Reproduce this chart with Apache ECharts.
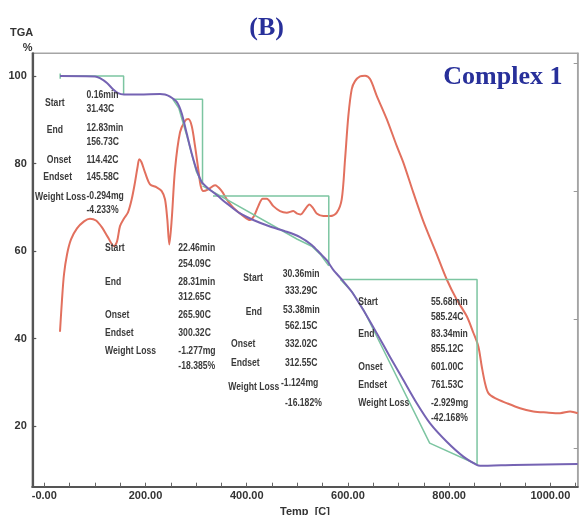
<!DOCTYPE html>
<html>
<head>
<meta charset="utf-8">
<script src="https://cdn.jsdelivr.net/npm/echarts@6/dist/echarts.min.js"></script>
<style>
  html, body { margin: 0; padding: 0; background: #fff; }
  #chart { width: 579px; height: 515px; }
</style>
</head>
<body>
<div id="chart"></div>
<script>
// TGA mass curve (%), temperature in °C
const tgaTemp = [31, 100.2, 110, 123.9, 135.8, 145.7, 157.5, 189, 228.7, 238.5, 248.4, 261.7, 271.5, 281.4, 291.3, 301.2, 311.1, 324.1, 340.7, 360.5, 386.8, 413, 446, 479.1, 505.3, 528.5, 544.9, 558.1, 571.1, 587.7, 607.5, 630.4, 656.9, 683.2, 709.5, 736, 762.3, 795.3, 828.1, 854.5, 861.1, 926.9, 989.5, 1054];
const tgaPct  = [100, 99.9, 99.5, 98.4, 97.0, 96.1, 95.8, 95.8, 95.9, 95.8, 95.3, 94.1, 91.5, 86.9, 82.3, 78.5, 75.8, 74.3, 72.8, 70.9, 68.6, 67.1, 65.6, 64.4, 63.2, 61.4, 59.5, 57.9, 55.7, 53.5, 50.7, 46.5, 41.2, 35.8, 30.5, 25.2, 20.6, 16.4, 13.0, 11.1, 10.9, 11.1, 11.2, 11.3];

// DSC heat-flow signal (arbitrary units on the right axis)
const dscTemp = [31, 35, 38.9, 44.9, 52.8, 64.6, 78.5, 90.3, 102.2, 114, 125.9, 137.7, 143.7, 149.6, 157.5, 165.4, 172.7, 179.2, 184.2, 187.7, 192.1, 199, 208.9, 222.1, 232, 238.5, 243.1, 247, 251.8, 258.3, 268.2, 278.1, 284.6, 291.3, 297.8, 304.3, 309.1, 314.2, 324.1, 337.4, 350.6, 360.5, 373.5, 393.3, 406.5, 414.4, 422.9, 431.6, 439.5, 452.6, 465.8, 479.1, 492.1, 498.8, 506.7, 515.2, 523.7, 530.4, 538.3, 551.4, 564.6, 577.9, 587.7, 594.3, 600.8, 607.5, 614, 623.9, 633.8, 643.7, 656.9, 676.7, 696.4, 709.5, 729.2, 749, 775.5, 795.3, 815, 834.8, 847.8, 857.7, 864.4, 870.9, 877.5, 890.7, 913.8, 940.1, 966.4, 992.9, 1019.2, 1039, 1054];
const dscSignal = [9.06, 11.56, 13.52, 15.08, 16.25, 17.11, 17.66, 17.87, 17.73, 17.19, 16.41, 15.73, 16.09, 17.29, 17.89, 18.36, 19.38, 20.70, 21.88, 22.5, 22.27, 21.48, 20.55, 20.31, 20.02, 19.38, 17.81, 15.86, 17.81, 21.72, 24.61, 25.49, 25.63, 25.10, 23.54, 21.72, 20.41, 20.02, 20.16, 20.47, 20.02, 19.38, 18.73, 18.07, 17.76, 18.07, 18.85, 19.43, 19.43, 18.85, 18.46, 18.34, 18.46, 18.28, 18.20, 18.59, 18.98, 18.73, 18.28, 18.07, 18.07, 18.34, 19.38, 22.5, 25.88, 27.97, 28.59, 28.96, 29.01, 28.75, 27.45, 25.63, 23.54, 22.24, 19.90, 17.66, 15.08, 13.13, 11.56, 10.26, 8.98, 7.91, 6.35, 5.05, 4.27, 3.88, 3.49, 3.10, 2.84, 2.76, 2.71, 2.84, 2.71];

// Mass-loss steps: start/end temperature and mass level before/after each step
const stepStart = [31.43, 254.09, 333.29, 585.24];
const stepEnd   = [156.73, 312.65, 562.15, 855.12];
const stepUpper = [100, 94.7, 72.6, 53.5];
const stepLower = [95.8, 75.2, 56.6, 11.2];

// Tangent construction lines for steps 2-4
const tangent2Temp = [254.09, 266, 281, 300.32, 312.65];
const tangent2Pct  = [94.7, 92.6, 86.6, 78.2, 75.2];
const tangent3Temp = [312.65, 500, 528.5, 545, 562.15];
const tangent3Pct  = [74.9, 62.7, 61.1, 59.3, 56.6];
const tangent4Temp = [585.24, 608, 632, 761.53, 855.12];
const tangent4Pct  = [53.5, 50.7, 46.3, 16.1, 11.2];

// Report text of the step analysis
const reportNames = ['Start', 'End', 'Onset', 'Endset', 'Weight Loss'];
const reportValues = [
  ['0.16min', '31.43C', '12.83min', '156.73C', '114.42C', '145.58C', '-0.294mg', '-4.233%'],
  ['22.46min', '254.09C', '28.31min', '312.65C', '265.90C', '300.32C', '-1.277mg', '-18.385%'],
  ['30.36min', '333.29C', '53.38min', '562.15C', '332.02C', '312.55C', '-1.124mg', '-16.182%'],
  ['55.68min', '585.24C', '83.34min', '855.12C', '601.00C', '761.53C', '-2.929mg', '-42.168%']
];

const xTickLabels = [0, 200, 400, 600, 800, 1000];
const yTickLabels = [20, 40, 60, 80, 100];

const pairs = (xs, ys) => xs.map((x, i) => [x, ys[i]]);

// Report block layout (pixel positions)
const nameLayout = [
  [[45, 103.3], [46.7, 130], [46.7, 160], [43.3, 176.7], [35, 196.7]],
  [[105, 248.3], [105, 281.7], [105, 315], [105, 333.3], [105, 351]],
  [[243.3, 278.3], [245.7, 311.7], [231, 344.3], [231, 363.3], [228.3, 387.3]],
  [[358.3, 301.7], [358.3, 334], [358.3, 367.3], [358.3, 385], [358.3, 403.3]]
];
const valueLayout = [
  [[86.5, 95], [86.5, 109.3], [86.5, 127.7], [86.5, 141.7], [86.5, 160], [86.5, 176.7], [86.5, 196], [86.5, 210]],
  [[178.3, 248.3], [178.3, 264], [178.3, 281.7], [178.3, 297.3], [178.3, 315], [178.3, 333.3], [178.3, 351], [178.3, 366]],
  [[282.7, 274.3], [285, 291], [283, 310], [285, 326], [285, 344.3], [285, 363.3], [281, 383.3], [285, 402.7]],
  [[431, 301.7], [431, 316.7], [431, 334], [431, 349.3], [431, 367.3], [431, 385], [431, 403.3], [431, 418.3]]
];

const reportFont = 'bold 10.5px "Liberation Sans", Arial, sans-serif';
function reportText(text, pos) {
  return {
    type: 'text', x: pos[0], y: pos[1], scaleX: 0.82, z: 100,
    style: {
      text: text, x: 0, y: 0, fill: '#3a3a3a', font: reportFont,
      align: 'left', verticalAlign: 'middle', textAlign: 'left', textVerticalAlign: 'middle'
    }
  };
}

const graphics = [];
reportValues.forEach((vals, b) => {
  reportNames.forEach((n, i) => graphics.push(reportText(n, nameLayout[b][i])));
  vals.forEach((v, i) => graphics.push(reportText(v, valueLayout[b][i])));
});
const plainText = (text, x, y, font, fill, align) => ({
  type: 'text', x: x, y: y, z: 100,
  style: { text: text, x: 0, y: 0, font: font, fill: fill,
    align: align, verticalAlign: 'middle', textAlign: align, textVerticalAlign: 'middle' }
});
graphics.push(plainText('TGA', 10, 33.3, 'bold 11px "Liberation Sans", Arial, sans-serif', '#333', 'left'));
graphics.push(plainText('%', 32.5, 48, 'bold 11px "Liberation Sans", Arial, sans-serif', '#333', 'right'));
graphics.push(plainText('(B)', 266.7, 28.5, 'bold 26px "Liberation Serif", "Times New Roman", serif', '#28309a', 'center'));
graphics.push(plainText('Complex 1', 443.3, 77, 'bold 26px "Liberation Serif", "Times New Roman", serif', '#28309a', 'left'));

// Step boxes: horizontal at the upper level, vertical drop at the step end
const stepSeries = stepStart.map((s, i) => {
  const pts = [];
  if (i === 0) { pts.push([s, stepUpper[i] + 0.6], [s, stepUpper[i] - 0.6]); }
  pts.push([s, stepUpper[i]], [stepEnd[i], stepUpper[i]], [stepEnd[i], stepLower[i]]);
  return {
    type: 'line', name: 'step' + (i + 1), data: pts, showSymbol: false, symbol: 'none',
    lineStyle: { color: '#7cc5a1', width: 1.5 }, z: 3, silent: true
  };
});
const tangentSeries = [[tangent2Temp, tangent2Pct], [tangent3Temp, tangent3Pct], [tangent4Temp, tangent4Pct]]
  .map((t, i) => ({
    type: 'line', name: 'tangent' + (i + 2), data: pairs(t[0], t[1]), symbol: 'none',
    lineStyle: { color: '#7cc5a1', width: 1.5 }, z: 3, silent: true
  }));

const chart = echarts.init(document.getElementById('chart'), null, { renderer: 'canvas' });
chart.setOption({
  animation: false,
  backgroundColor: '#ffffff',
  grid: {
    left: 32.3, right: 1.3, top: 53.3, bottom: 28.3,
    show: true, borderColor: '#a5a5a5', borderWidth: 1.5, backgroundColor: 'transparent',
    containLabel: false, outerBoundsMode: 'none'
  },
  xAxis: {
    type: 'value', min: -23.7, max: 1054,
    name: 'Temp  [C]', nameLocation: 'middle', nameGap: 16,
    nameTextStyle: { color: '#333', fontWeight: 'bold', fontSize: 11, fontFamily: '"Liberation Sans", Arial, sans-serif' },
    axisLine: { show: true, onZero: false, lineStyle: { color: '#555', width: 2.2 } },
    axisTick: { show: true, inside: true, length: 4, customValues: Array.from({ length: 22 }, (_, i) => i * 50), lineStyle: { color: '#666', width: 1 } },
    axisLabel: {
      customValues: xTickLabels, margin: 4, color: '#333', fontWeight: 'bold', fontSize: 11,
      fontFamily: '"Liberation Sans", Arial, sans-serif',
      formatter: v => (v === 0 ? '-0.00' : v.toFixed(2))
    },
    splitLine: { show: false }
  },
  yAxis: [{
    type: 'value', min: 6.13, max: 105.2, position: 'left',
    axisLine: { show: true, onZero: false, lineStyle: { color: '#555', width: 2.2 } },
    axisTick: { show: true, inside: true, length: 4, customValues: yTickLabels, lineStyle: { color: '#555', width: 1.2 } },
    axisLabel: { customValues: yTickLabels, margin: 5.5, color: '#333', fontWeight: 'bold', fontSize: 11, fontFamily: '"Liberation Sans", Arial, sans-serif' },
    splitLine: { show: false }
  }, {
    type: 'value', min: -3.02, max: 30.76, position: 'right',
    axisLine: { show: true, onZero: false, lineStyle: { color: '#a5a5a5', width: 1.5 } },
    axisTick: { show: true, inside: true, length: 4, customValues: [0, 10, 20, 30], lineStyle: { color: '#999', width: 1 } },
    axisLabel: { show: false },
    splitLine: { show: false }
  }],
  series: [
    {
      type: 'line', name: 'DSC', yAxisIndex: 1, data: pairs(dscTemp, dscSignal),
      symbol: 'none', smooth: 0.3, lineStyle: { color: '#e2705e', width: 2 }, z: 2, silent: true
    },
    ...stepSeries,
    ...tangentSeries,
    {
      type: 'line', name: 'TGA', data: pairs(tgaTemp, tgaPct),
      symbol: 'none', smooth: 0.25, lineStyle: { color: '#7563b3', width: 2 }, z: 4, silent: true
    }
  ],
  graphic: graphics
});
</script>
</body>
</html>
